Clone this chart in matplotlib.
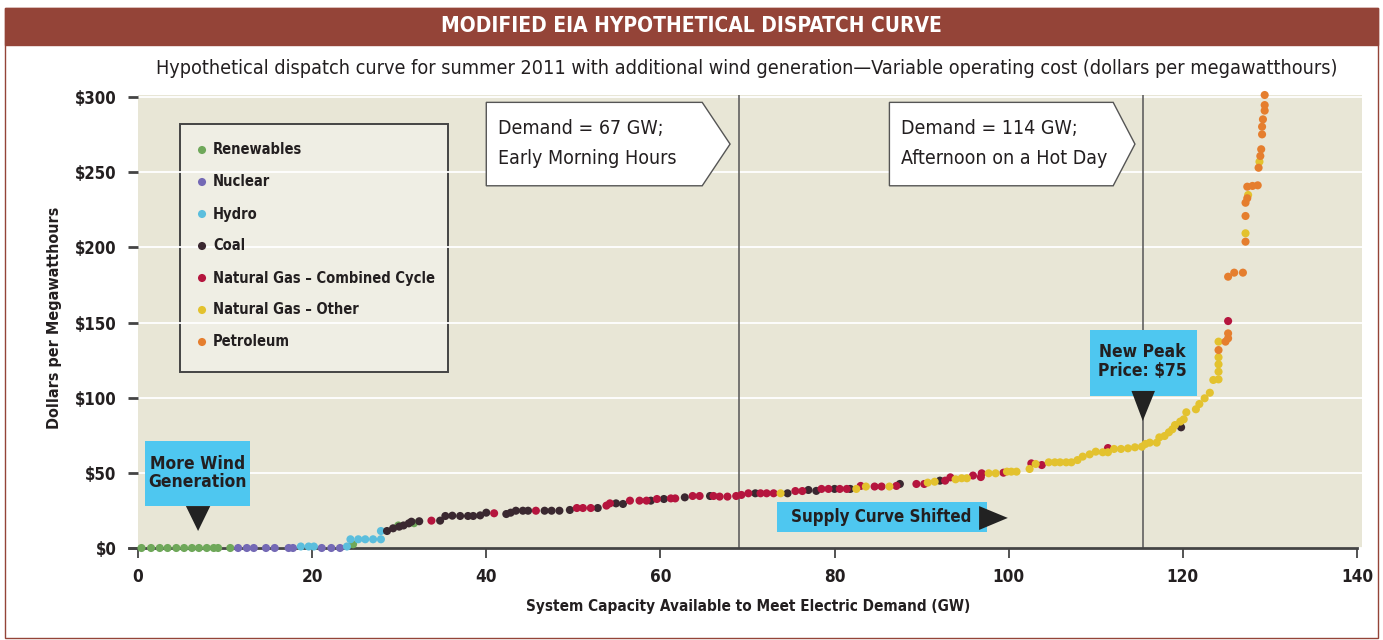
import matplotlib
matplotlib.use("Agg")
import matplotlib.pyplot as plt
from matplotlib.patches import Rectangle, Polygon

plt.rcParams['font.family'] = ['DejaVu Sans']
plt.rcParams['font.stretch'] = 'condensed'

# --- data (GW, $/MWh) ---
ren_x = [0.4, 1.5, 2.5, 3.4, 4.4, 5.3, 6.2, 7.0, 7.9, 8.7, 9.2, 10.6, 24.7, 29.9, 31.7]
ren_y = [0, 0, 0, 0, 0, 0, 0, 0, 0, 0, 0, 0, 2.5, 15.0, 16.5]

nuc_x = [11.5, 12.5, 13.3, 14.7, 15.7, 17.3, 17.8, 21.1, 22.2, 23.2]
nuc_y = [0, 0, 0, 0, 0, 0, 0, 0, 0, 0]

hyd_x = [18.7, 19.6, 20.2, 24.0, 24.4, 25.3, 26.1, 27.0, 27.9, 27.9]
hyd_y = [1.0, 1.0, 1.0, 1.0, 5.8, 5.8, 5.8, 5.8, 5.8, 11.3]

coal_x = [28.6, 29.3, 30.0, 30.5, 31.1, 31.4, 32.3, 34.7, 35.3, 36.1, 37.0, 37.9, 38.5,
          39.3, 40.0, 42.3, 42.8, 43.4, 44.2, 44.8, 46.7, 47.5, 48.4, 49.6, 52.8, 54.9,
          55.7, 58.9, 60.4, 62.8, 65.7, 70.9, 74.6, 77.0, 77.9, 80.0, 81.8, 87.5, 92.1, 119.8]
coal_y = [11.3, 13.1, 14.2, 15.0, 16.4, 17.5, 17.8, 18.2, 21.3, 21.5, 21.3, 21.3, 21.3,
          21.7, 23.5, 22.6, 23.5, 24.8, 24.8, 24.8, 24.8, 24.8, 24.8, 25.3, 26.6, 29.7,
          29.3, 31.5, 32.6, 33.7, 34.6, 36.4, 36.4, 38.6, 38.0, 39.3, 39.3, 42.6, 44.8, 80.3]

ngcc_x = [33.7, 40.9, 45.7, 50.4, 51.1, 52.0, 53.8, 54.2, 56.5, 57.6, 58.4, 59.6, 61.2,
          61.7, 63.7, 64.5, 66.1, 66.8, 67.7, 68.7, 69.3, 70.1, 71.5, 72.2, 73.0, 75.5,
          76.3, 78.5, 79.3, 80.6, 81.4, 83.0, 84.6, 85.4, 87.1, 89.4, 90.3, 92.7, 93.3,
          95.9, 96.9, 96.8, 99.4, 102.6, 103.8, 111.4, 125.2]
ngcc_y = [18.2, 23.1, 24.8, 26.6, 26.6, 26.6, 28.2, 29.7, 31.5, 31.5, 31.5, 32.6, 33.0,
          33.0, 34.6, 34.6, 34.6, 34.2, 34.2, 34.6, 35.3, 36.4, 36.4, 36.4, 36.4, 37.9,
          37.9, 39.3, 39.3, 39.3, 39.3, 41.3, 40.9, 40.9, 41.3, 42.6, 42.6, 44.8, 47.0,
          48.2, 49.7, 47.2, 50.1, 56.3, 55.2, 66.5, 151.0]

ngo_x = [73.8, 82.5, 83.6, 86.3, 90.7, 91.5, 93.9, 94.6, 95.2, 97.7, 98.5, 99.8, 100.3,
         100.9, 102.4, 103.1, 104.6, 105.3, 105.9, 106.6, 107.2, 107.9, 108.5, 109.3,
         110.0, 110.8, 111.4, 112.1, 112.9, 113.7, 114.5, 115.3, 115.7, 116.2, 117.0,
         117.3, 117.9, 118.4, 118.8, 119.1, 119.7, 120.1, 120.4, 121.5, 121.9, 122.5,
         123.1, 123.5, 124.1, 124.1, 124.1, 124.1, 124.1, 127.2, 127.5, 128.8]
ngo_y = [36.4, 39.3, 40.9, 40.9, 43.5, 44.1, 45.7, 46.4, 46.4, 49.7, 49.7, 50.8, 50.8,
         50.8, 52.6, 55.9, 57.0, 57.0, 57.0, 57.0, 57.0, 58.5, 60.8, 62.3, 64.1, 63.7,
         63.7, 65.9, 65.9, 66.3, 67.0, 67.4, 69.2, 70.1, 70.1, 73.6, 74.5, 77.0, 79.0,
         81.8, 84.1, 85.6, 90.3, 92.3, 95.8, 99.6, 103.3, 111.8, 112.2, 117.3, 122.2,
         126.9, 137.3, 209.4, 234.9, 257.0]

pet_x = [124.1, 124.9, 125.2, 125.2, 125.2, 125.9, 126.9, 127.2, 127.2, 127.2, 127.4,
         127.4, 128.0, 128.6, 128.7, 128.9, 129.0, 129.1, 129.1, 129.2, 129.4, 129.4, 129.4]
pet_y = [131.7, 137.3, 139.5, 142.8, 180.5, 183.2, 183.2, 203.8, 220.9, 229.7, 232.7,
         240.4, 240.9, 241.3, 253.0, 260.8, 265.3, 275.2, 280.3, 285.2, 291.0, 294.7, 301.4]

labels = ['Renewables', 'Nuclear', 'Hydro', 'Coal', 'Natural Gas \u2013 Combined Cycle',
          'Natural Gas \u2013 Other', 'Petroleum']
colors = ['#6FA85A', '#7469B5', '#5BBEDD', '#3A2830', '#B5153E', '#E3C22E', '#E57E2E']
series = [(ren_x, ren_y), (nuc_x, nuc_y), (hyd_x, hyd_y), (coal_x, coal_y),
          (ngcc_x, ngcc_y), (ngo_x, ngo_y), (pet_x, pet_y)]

demand_lines = [69.0, 115.4]
x_ticks = [0, 20, 40, 60, 80, 100, 120, 140]
y_ticks = [0, 50, 100, 150, 200, 250, 300]

dark = '#231F20'
beige = '#E8E6D6'
sky = '#4EC7F0'
brown = '#944438'

fig = plt.figure(figsize=(13.83, 6.4), dpi=100)

# outer frame and title band
W, H = 1383.0, 640.0
fig.patches.append(Rectangle((5 / W, 2 / H), 1373 / W, 630 / H, transform=fig.transFigure,
                             fill=False, edgecolor=brown, linewidth=1.0))
fig.patches.append(Rectangle((5 / W, (H - 45) / H), 1373 / W, 37 / H, transform=fig.transFigure,
                             facecolor=brown, edgecolor=brown))
fig.text(0.5, (H - 26.5) / H, 'MODIFIED EIA HYPOTHETICAL DISPATCH CURVE', color='white',
         fontsize=15, fontweight='bold', ha='center', va='center')
fig.text(747 / W, (H - 68) / H,
         'Hypothetical dispatch curve for summer 2011 with additional wind generation\u2014'
         'Variable operating cost (dollars per megawatthours)',
         color=dark, fontsize=14.2, ha='center', va='center')

ax = fig.add_axes([138 / W, 92 / H, 1224.2 / W, 453 / H])
ax.set_facecolor(beige)
ax.set_xlim(0, 140.6)
ax.set_ylim(0, 301.4)

for s in ['top', 'right', 'left']:
    ax.spines[s].set_visible(False)
ax.spines['bottom'].set_color('#444444')
ax.spines['bottom'].set_linewidth(2)
ax.spines['bottom'].set_bounds(-1, 140)

ax.set_xticks(x_ticks)
ax.set_xticklabels([str(v) for v in x_ticks])
ax.set_yticks(y_ticks)
ax.set_yticklabels(['$' + str(v) for v in y_ticks])
ax.tick_params(axis='x', length=7.5, width=1.3, color='#444444', pad=7,
               labelsize=12.3, labelcolor=dark)
ax.tick_params(axis='y', length=7.5, width=2, color='#444444', pad=8,
               labelsize=12, labelcolor=dark)
for lab in ax.get_xticklabels() + ax.get_yticklabels():
    lab.set_fontweight('bold')

ax.set_axisbelow(True)
ax.yaxis.grid(True, color='white', linewidth=1.3)

ax.set_xlabel('System Capacity Available to Meet Electric Demand (GW)', fontsize=11,
              fontweight='bold', color=dark)
ax.set_ylabel('Dollars per Megawatthours', fontsize=11.5, fontweight='bold', color=dark)
ax.xaxis.set_label_coords(0.498, -0.112)
ax.yaxis.set_label_coords(-0.062, 0.508)

for xv in demand_lines:
    ax.axvline(xv, color='#555555', linewidth=1.1, zorder=1)

# dispatch points
for (xs, ys), c, lab in zip(series, colors, labels):
    ax.scatter(xs, ys, s=34, color=c, edgecolors='none', zorder=3, clip_on=False, label=lab)

# legend box drawn by hand to match the layout
ax.add_patch(Rectangle((0.0343, 0.3885), 0.2189, 0.5475, transform=ax.transAxes,
                       facecolor='#EFEEE4', edgecolor='#444444', linewidth=1.4, zorder=0.4))
for i, (lab, c) in enumerate(zip(labels, colors)):
    yy = (548 - (150 + 32 * i)) / 453
    ax.scatter([0.0523], [yy], s=34, color=c, edgecolors='none', transform=ax.transAxes, zorder=4)
    ax.text(0.0613, yy, lab, transform=ax.transAxes, fontsize=10.5, fontweight='bold',
            color=dark, va='center', ha='left', zorder=4)

# demand callouts (pentagon arrows)
callouts = [
    (40.0, 64.8, 68.0, 'Demand = 67 GW;', 'Early Morning Hours'),
    (86.3, 112.0, 114.5, 'Demand = 114 GW;', 'Afternoon on a Hot Day'),
]
for x0, x1, tip, l1, l2 in callouts:
    top, bot = 296.5, 241.0
    ax.add_patch(Polygon([(x0, bot), (x0, top), (x1, top), (tip, (top + bot) / 2), (x1, bot)],
                         closed=True, facecolor='white', edgecolor='#555555',
                         linewidth=1.0, zorder=4))
    ax.text(x0 + 1.3, 279, l1, fontsize=14, color=dark, va='center', ha='left', zorder=5)
    ax.text(x0 + 1.3, 259, l2, fontsize=14, color=dark, va='center', ha='left', zorder=5)

# blue annotation boxes with black pointers
ax.add_patch(Rectangle((0.8, 27.9), 12.1, 43.3, facecolor=sky, edgecolor='none', zorder=4))
ax.text(6.8, 50.0, 'More Wind\nGeneration', fontsize=12.5, fontweight='bold', color=dark,
        ha='center', va='center', linespacing=1.05, zorder=5)
ax.add_patch(Polygon([(5.5, 27.9), (8.3, 27.9), (6.9, 11.3)], closed=True,
                     facecolor='#222222', edgecolor='none', zorder=5))

ax.add_patch(Rectangle((73.4, 10.6), 24.1, 20.0, facecolor=sky, edgecolor='none', zorder=4))
ax.text(85.4, 20.6, 'Supply Curve Shifted', fontsize=12.2, fontweight='bold', color=dark,
        ha='center', va='center', zorder=5)
ax.add_patch(Polygon([(96.6, 27.9), (96.6, 12.0), (99.9, 20.0)], closed=True,
                     facecolor='#222222', edgecolor='none', zorder=5))

ax.add_patch(Rectangle((109.3, 101.0), 12.3, 44.0, facecolor=sky, edgecolor='none', zorder=4))
ax.text(115.4, 124.0, 'New Peak\nPrice: $75', fontsize=12.5, fontweight='bold', color=dark,
        ha='center', va='center', linespacing=1.05, zorder=5)
ax.add_patch(Polygon([(114.1, 104.5), (116.8, 104.5), (115.4, 84.5)], closed=True,
                     facecolor='#222222', edgecolor='none', zorder=5))

fig.savefig('out.png', dpi=100)
